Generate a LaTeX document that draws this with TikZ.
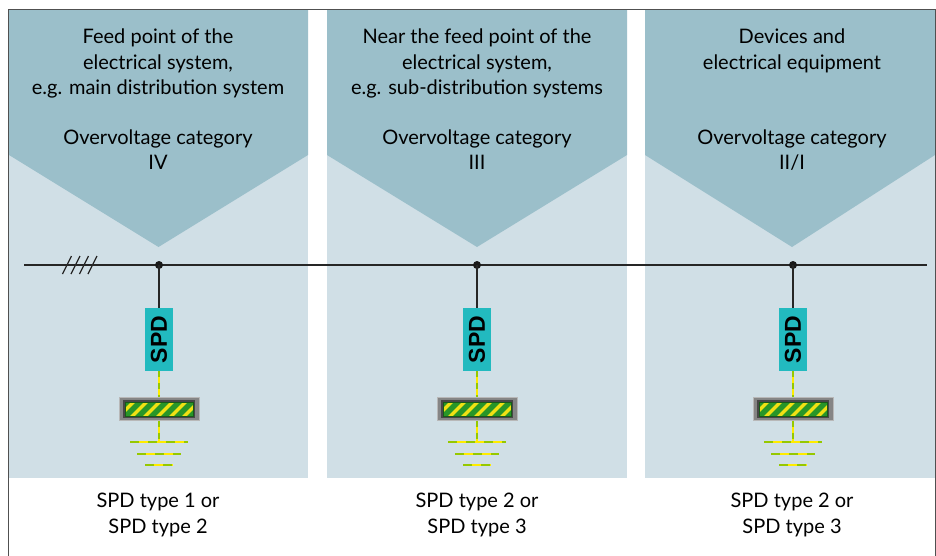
\documentclass[tikz,border=0pt]{standalone}
\usepackage{fontspec}
\setmainfont{Lato}
\setsansfont{Liberation Sans}
\usetikzlibrary{calc}
\definecolor{chev}{RGB}{155,191,202}
\definecolor{panelc}{RGB}{208,223,230}
\definecolor{framec}{RGB}{80,80,80}
\definecolor{spdc}{RGB}{34,186,191}
\definecolor{pey}{RGB}{255,236,0}
\definecolor{peg}{RGB}{150,200,0}
\definecolor{strg}{RGB}{40,150,40}
\definecolor{stry}{RGB}{240,225,20}
\begin{document}
\begin{tikzpicture}[x=1pt,y=-1pt,
  lbl/.style={font=\fontsize{20}{25.5}\selectfont, align=center, inner sep=0pt, anchor=base},
  bus/.style={line width=1.6pt, black!85},
  hatch/.style={line width=1.3pt, black!85},
  dot/.style={circle, fill=black!90, inner sep=0pt, minimum size=8pt},
  spdbox/.style={rectangle, fill=spdc, rotate=90, minimum width=63pt, minimum height=28pt, inner sep=0pt, font=\sffamily\bfseries\fontsize{23}{23}\selectfont},
  barframe/.style={rectangle, fill=black!48, draw=black!28, line width=1pt, minimum width=80pt, minimum height=23pt, inner sep=0pt},
  pe/.style={draw=pey, line width=2pt, postaction={draw=peg, line width=2pt, dash pattern=on 6pt off 6pt}},
  peh/.style={draw=pey, line width=2pt, postaction={draw=peg, line width=2pt, dash pattern=on 9pt off 9pt}},
]
\useasboundingbox (0,0) rectangle (936,556);
\fill[white] (0,0) rectangle (936,556);
% panels
\foreach \xl/\xr/\cx in {9/308/158.5, 327/627/477, 645/935/792} {
  \fill[panelc] (\xl,10) rectangle (\xr,478);
  \fill[chev] (\xl,10) -- (\xr,10) -- (\xr,155) -- (\cx,247) -- (\xl,155) -- cycle;
}
% outer frame
\draw[framec, line width=1.5pt] (8.5,556) -- (8.5,9.5) -- (935.5,9.5) -- (935.5,556);
% texts (base = baseline of last line)
\node[lbl] (t1) at (158,95) {Feed point of the\\electrical system,\\e.g. main distribution system};
\node[lbl] (c1) at (158,170) {Overvoltage category\\IV};
\node[lbl] (y1) at (158,533) {SPD type 1 or\\SPD type 2};
\node[lbl] (t2) at (477,95) {Near the feed point of the\\electrical system,\\e.g. sub-distribution systems};
\node[lbl] (c2) at (477,170) {Overvoltage category\\III};
\node[lbl] (y2) at (477,533) {SPD type 2 or\\SPD type 3};
\node[lbl] (t3) at (792,69.5) {Devices and\\electrical equipment};
\node[lbl] (c3) at (792,170) {Overvoltage category\\II/I};
\node[lbl] (y3) at (792,533) {SPD type 2 or\\SPD type 3};
% bus
\coordinate (busL) at (24,265);
\coordinate (busR) at (927,265);
\draw[bus] (busL) -- (busR);
\foreach \h in {67,75.5,84,92.5} \draw[hatch] (\h-4.5,274) -- (\h+4.5,256);
% devices
\foreach \n/\cx in {1/159, 2/477, 3/793} {
  \node[dot] (d\n) at (\cx,265) {};
  \node[spdbox] (s\n) at (\cx,339.5) {SPD};
  \node[barframe] (br\n) at (\cx,408.5) {};
  \coordinate (g\n) at (\cx,442);
  \draw[bus] (d\n.center) -- (s\n);
  \draw[pe] (s\n) -- (br\n);
  \draw[pe] (br\n) -- (g\n);
  \fill[black!72] (\cx-36,400) rectangle (\cx+36,418);
  \begin{scope}
    \clip (\cx-34,402) rectangle (\cx+34,416);
    \fill[stry] (\cx-34,402) rectangle (\cx+34,416);
    \foreach \k in {-6,...,6} \draw[strg, line width=5.5pt] (\cx+\k*13-10,419) -- ++(20,-20);
  \end{scope}
  \draw[strg!60!black, line width=0.8pt] (\cx-34,402) rectangle (\cx+34,416);
  \draw[peh] ($(g\n)+(-29,0)$) -- ($(g\n)+(29,0)$);
  \draw[peh] ($(g\n)+(-22,12)$) -- ($(g\n)+(22,12)$);
  \draw[peh] ($(g\n)+(-14,23)$) -- ($(g\n)+(14,23)$);
}
\end{tikzpicture}
\end{document}
